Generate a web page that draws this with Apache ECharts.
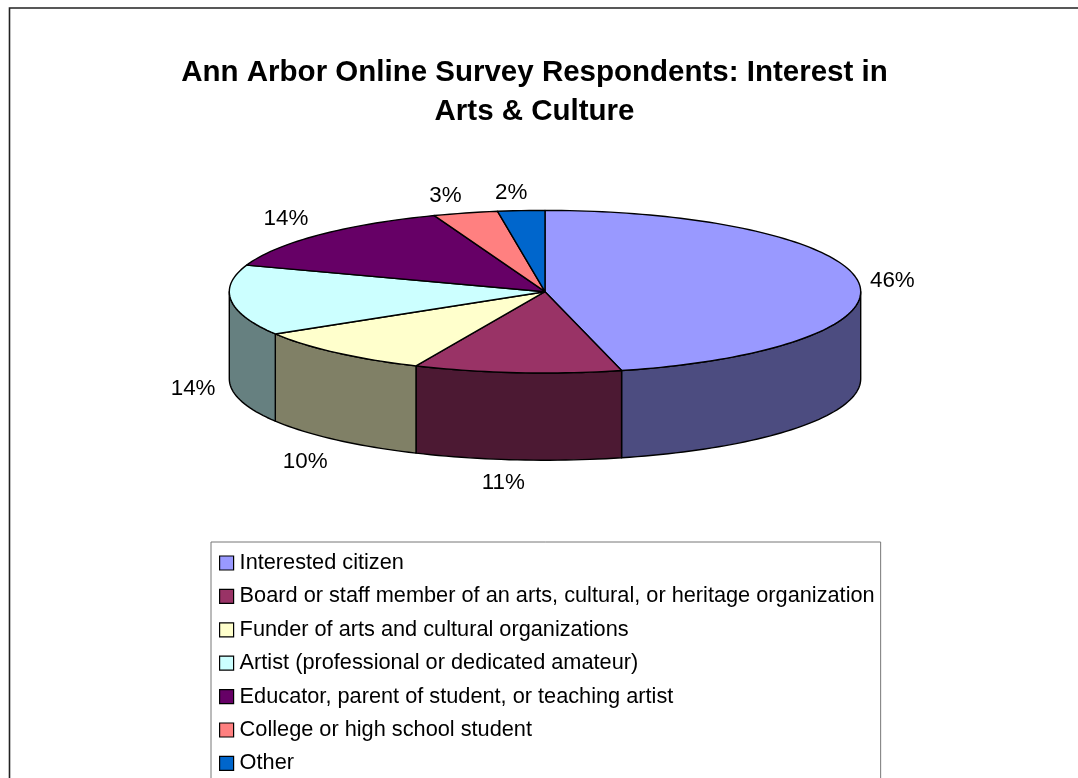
<!DOCTYPE html>
<html><head><meta charset="utf-8">
<style>html,body{margin:0;padding:0;background:#fff;overflow:hidden;width:1078px;height:778px}#c{width:1078px;height:820px}</style>
<script src="https://cdn.jsdelivr.net/npm/echarts@6/dist/echarts.min.js"></script>
</head><body><div id="c"></div>
<script>
const titleText = 'Ann Arbor Online Survey Respondents: Interest in\nArts & Culture';
const categories = [
  'Interested citizen',
  'Board or staff member of an arts, cultural, or heritage organization',
  'Funder of arts and cultural organizations',
  'Artist (professional or dedicated amateur)',
  'Educator, parent of student, or teaching artist',
  'College or high school student',
  'Other'
];
const shares = [46.1, 10.6, 9.6, 14.0, 14.0, 3.3, 2.4];
const topColors = ['#9999FF', '#993366', '#FFFFCC', '#CCFFFF', '#660066', '#FF8080', '#0066CC'];
const sideColors = ['#4C4C80', '#4C1933', '#808066', '#668080', '#330033', '#804040', '#003366'];

// layout of the projected pie
const PIE = { cx: 545, cy: 291.7, rx: 315.7, ry: 81.3, depth: 87.2 };
const labelNudge = [[34, -1], [-14, 23], [-31, 22], [-38, 1], [-33, -16], [-20, -17], [-10, -17.6]];
const FONT = '"Liberation Sans", Arial, sans-serif';

const total = shares.reduce((a, b) => a + b, 0);
const pt = (deg, dy) => {
  const r = deg * Math.PI / 180;
  return [PIE.cx + PIE.rx * Math.sin(r), PIE.cy - PIE.ry * Math.cos(r) + (dy || 0)];
};
const arc = (a0, a1, dy) => {
  const n = Math.max(2, Math.ceil(Math.abs(a1 - a0) / 1.5));
  const out = [];
  for (let i = 0; i <= n; i++) out.push(pt(a0 + (a1 - a0) * i / n, dy));
  return out;
};

function renderSlice(index, params, api) {
  const share = api.value(0);
  let before = 0;
  for (let i = 0; i < index; i++) before += shares[i];
  const a0 = before / total * 360, a1 = (before + share) / total * 360;
  const stroke = { stroke: '#000', lineWidth: 1.4, lineJoin: 'round' };
  const children = [];
  const s0 = Math.max(a0, 90), s1 = Math.min(a1, 270);
  if (s1 > s0) {
    children.push({
      type: 'polygon',
      shape: { points: arc(s0, s1, 0).concat(arc(s1, s0, PIE.depth)) },
      style: Object.assign({ fill: sideColors[index] }, stroke)
    });
  }
  children.push({
    type: 'polygon',
    shape: { points: [[PIE.cx, PIE.cy]].concat(arc(a0, a1, 0)) },
    style: Object.assign({ fill: topColors[index] }, stroke)
  });
  const mid = (a0 + a1) / 2;
  const anchor = pt(mid, mid > 90 && mid < 270 ? PIE.depth : 0);
  children.push({
    type: 'text',
    x: anchor[0] + labelNudge[index][0],
    y: anchor[1] + labelNudge[index][1],
    style: {
      text: Math.round(share) + '%',
      font: '22.4px ' + FONT,
      fill: '#000',
      align: 'center',
      verticalAlign: 'middle'
    }
  });
  return { type: 'group', children };
}

const chart = echarts.init(document.getElementById('c'), null, { renderer: 'canvas' });
chart.setOption({
  animation: false,
  backgroundColor: '#fff',
  title: {
    text: titleText,
    left: 529.5,
    top: 48,
    textAlign: 'center',
    textStyle: { fontFamily: FONT, fontWeight: 'bold', fontSize: 29.5, lineHeight: 39, color: '#000' }
  },
  graphic: [{
    type: 'rect', silent: true, z: -10,
    shape: { x: 9.5, y: 8, width: 1200, height: 900 },
    style: { fill: '#fff', stroke: '#222', lineWidth: 1.6 }
  }],
  legend: {
    orient: 'vertical',
    left: 211,
    top: 542,
    height: 270,
    padding: [10, 6, 30, 8],
    itemWidth: 14,
    itemHeight: 14,
    itemGap: 11.4,
    borderColor: '#777',
    borderWidth: 1,
    selectedMode: false,
    textStyle: { fontFamily: FONT, fontSize: 21.74, color: '#000', padding: [0, 0, 0, 1] },
    data: categories.map((name, i) => ({
      name, icon: 'rect',
      itemStyle: { color: topColors[i], borderColor: '#000', borderWidth: 1.2 }
    }))
  },
  series: categories.map((name, i) => ({
    type: 'custom',
    name,
    coordinateSystem: 'none',
    silent: true,
    itemStyle: { color: topColors[i] },
    renderItem: (params, api) => renderSlice(i, params, api),
    data: [[shares[i]]]
  }))
});
</script></body></html>
